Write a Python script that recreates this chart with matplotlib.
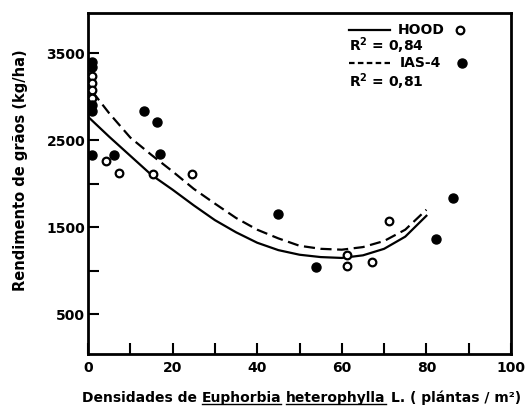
import numpy as np
import matplotlib.pyplot as plt
from matplotlib.lines import Line2D

# =========================
# DATOS
# =========================

# HOOD (círculos abiertos)
hood_x = [1, 1, 1, 1, 4.3, 7.4, 15.4, 24.6, 61.2, 61.2, 67.2, 71.1]
hood_y = [3240, 3160, 3080, 2980, 2266, 2121, 2112, 2112, 1047, 1182, 1098, 1565]

# IAS-4 (círculos llenos)
ias_x = [1, 1, 1, 1, 1, 6.1, 13.2, 16.4, 16.9, 45.0, 53.9, 82.2, 86.4]
ias_y = [3400, 3345, 2900, 2840, 2330, 2331, 2840, 2714, 2343, 1649, 1040, 1362, 1833]

# curvas de regresión (leídas punto a punto)
hood_curve_x = [0, 5, 10, 15, 20, 25, 30, 35, 40, 45, 50, 55, 60, 65, 70, 75, 80]
hood_curve_y = [2770, 2540, 2320, 2100, 1930, 1750, 1580, 1440, 1320, 1235, 1182, 1155,
                1145, 1175, 1250, 1390, 1630]

ias_curve_x = [1, 5, 10, 15, 20, 25, 30, 35, 40, 45, 50, 55, 60, 65, 70, 75, 80]
ias_curve_y = [3060, 2810, 2530, 2330, 2140, 1940, 1770, 1605, 1470, 1370, 1285, 1250,
               1240, 1270, 1340, 1470, 1700]

x_ticks = [0, 10, 20, 30, 40, 50, 60, 70, 80, 90, 100]
x_tick_labels = ["0", "", "20", "", "40", "", "60", "", "80", "", "100"]
y_ticks = [500, 1000, 1500, 2000, 2500, 3500]
y_tick_labels = ["500", "", "1500", "", "2500", "3500"]

# =========================
# GRÁFICA
# =========================

plt.rcParams['font.family'] = ['DejaVu Sans']
plt.rcParams['font.weight'] = 'bold'

fig = plt.figure(figsize=(5.28, 4.09), dpi=100)
ax = fig.add_axes([0.1667, 0.1345, 0.8011, 0.8337])

ax.plot(hood_curve_x, hood_curve_y, color='black', lw=1.6)
ax.plot(ias_curve_x, ias_curve_y, color='black', lw=1.6, linestyle=(0, (5, 2.5)))

ax.plot(hood_x, hood_y, 'o', mfc='white', mec='black', mew=1.6, ms=5.5, zorder=3)
ax.plot(ias_x, ias_y, 'o', color='black', ms=6.5, zorder=3)

ax.set_xlim(0, 100)
ax.set_ylim(40, 3963)
ax.set_xticks(x_ticks)
ax.set_xticklabels(x_tick_labels)
ax.set_yticks(y_ticks)
ax.set_yticklabels(y_tick_labels)
ax.tick_params(direction='in', length=8, width=1.5, labelsize=10, colors='black')
ax.tick_params(axis='x', pad=5)
ax.tick_params(axis='y', pad=2)
for s in ax.spines.values():
    s.set_linewidth(2)

# leyenda manual
tr = ax.transAxes
ax.plot([0.617, 0.714], [0.950, 0.950], color='black', lw=1.6, transform=tr)
ax.text(0.733, 0.950, "HOOD", transform=tr, fontsize=10, va='center')
ax.plot([0.879], [0.950], 'o', mfc='white', mec='black', mew=1.6, ms=5.5, transform=tr)
ax.text(0.617, 0.905, "R$^\\mathbf{2}$ = 0,84", transform=tr, fontsize=10, va='center')
ax.plot([0.617, 0.714], [0.853, 0.853], color='black', lw=1.6,
        linestyle=(0, (2.5, 1.5)), transform=tr)
ax.text(0.738, 0.853, "IAS-4", transform=tr, fontsize=10, va='center')
ax.plot([0.884], [0.853], 'o', color='black', ms=6.5, transform=tr)
ax.text(0.617, 0.800, "R$^\\mathbf{2}$ = 0,81", transform=tr, fontsize=10, va='center')

fig.text(0.038, 0.584, "Rendimento de grãos (kg/ha)", rotation=90,
         fontsize=10.5, ha='center', va='center')

# título eje x con palabras subrayadas
renderer = fig.canvas.get_renderer()
pieces = [("Densidades de", False), ("Euphorbia", True), ("heterophylla", True),
          ("L. ( plántas / m²)", False)]
fs = 10

def width_of(s):
    t = fig.text(0, 0, s, fontsize=fs)
    w = t.get_window_extent(renderer).width / fig.bbox.width
    t.remove()
    return w

gap = width_of("a a") - width_of("aa")
x = 0.155
y = 0.016
for txt, ul in pieces:
    t = fig.text(x, y, txt, fontsize=fs, va='baseline')
    w = t.get_window_extent(renderer).width / fig.bbox.width
    if ul:
        fig.add_artist(Line2D([x, x + w], [y - 0.004, y - 0.004], color='black', lw=1))
    x += w + gap

fig.savefig("out.png", dpi=100)
